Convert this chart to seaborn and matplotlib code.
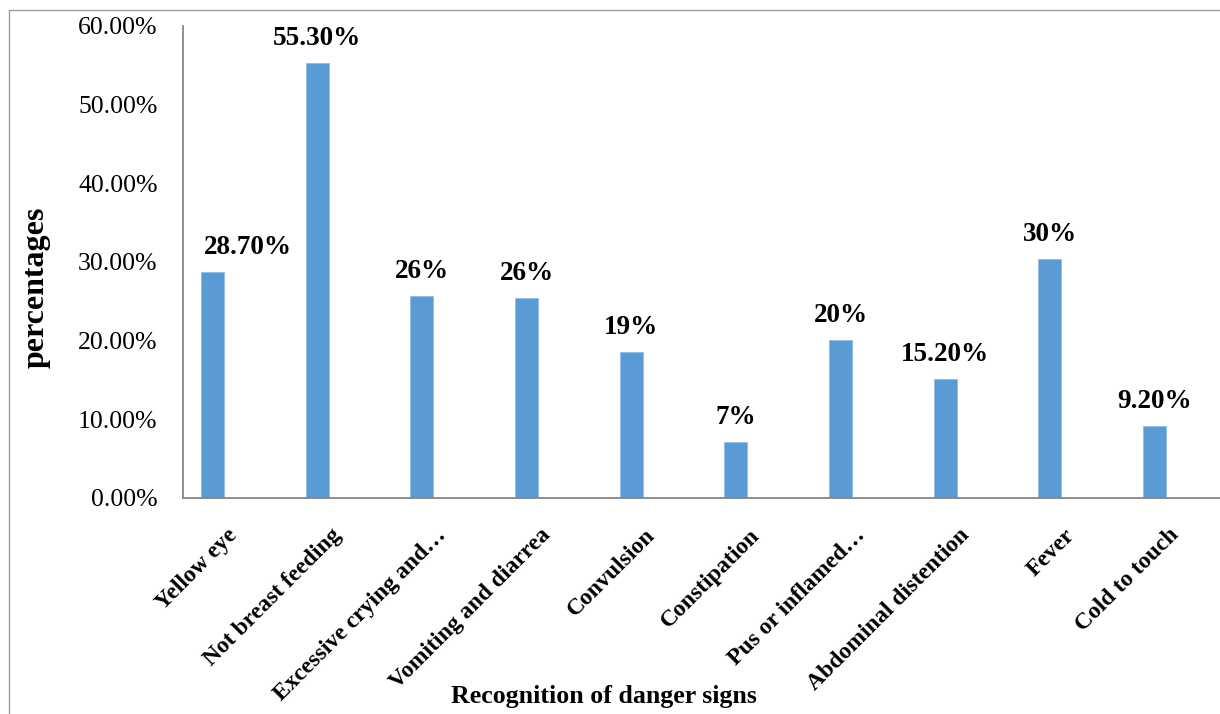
import matplotlib
matplotlib.use("Agg")
import matplotlib.pyplot as plt
import matplotlib.transforms as mtransforms
from matplotlib.lines import Line2D
import seaborn as sns
import pandas as pd
import numpy as np

categories = ["Yellow eye", "Not breast feeding", "Excessive crying and\u2026",
              "Vomiting and diarrea", "Convulsion", "Constipation",
              "Pus or inflamed\u2026", "Abdominal distention", "Fever", "Cold to touch"]
values = [28.7, 55.3, 25.7, 25.4, 18.6, 7.1, 20.1, 15.1, 30.4, 9.2]
value_labels = ["28.70%", "55.30%", "26%", "26%", "19%", "7%", "20%", "15.20%", "30%", "9.20%"]
y_ticks = [0, 10, 20, 30, 40, 50, 60]
y_tick_labels = ["0.00%", "10.00%", "20.00%", "30.00%", "40.00%", "50.00%", "60.00%"]
series_names = ["Series1", "Series2", "Series3"]

sns.set_theme(style="white")
plt.rcParams["font.family"] = ["Liberation Serif", "DejaVu Serif"]

W, H = 1220, 714
fig = plt.figure(figsize=(W / 100, H / 100), dpi=100)
ax_left, ax_right, ax_top, ax_bottom = 183.3, 1230.0, 25.7, 498.0
ax = fig.add_axes([ax_left / W, (H - ax_bottom) / H, (ax_right - ax_left) / W, (ax_bottom - ax_top) / H])

df = pd.DataFrame({"category": categories, "value": values, "series": series_names[0]})

sns.barplot(data=df, x="category", y="value", hue="series", hue_order=series_names,
            order=categories, width=0.66, dodge=True, palette=["#5B9BD5"] * 3,
            saturation=1, edgecolor="#8DBBE5", linewidth=0.6, errorbar=None,
            legend=False, ax=ax)

bars = ax.containers[0]
anns = ax.bar_label(bars, labels=value_labels, padding=8.5, fontsize=19.5, fontweight="bold",
                    color="black")
# Excel nudged the first label to the right of its bar
anns[0].set_ha("left")
anns[0].xyann = (-6.0, 8.5)

ax.set_xlim(-0.5, len(categories) - 0.5)
ax.set_ylim(0, 60)
ax.set_yticks(y_ticks)
ax.set_yticklabels(y_tick_labels, fontsize=18.5, color="black")

ax.set_xticks(range(len(categories)))
ax.set_xticklabels(categories, rotation=45, ha="right", va="center",
                   rotation_mode="anchor", fontsize=17, fontweight="bold", color="black")
ax.set_xticks(np.arange(len(categories) + 1) - 0.5, minor=True)
ax.tick_params(axis="x", which="major", length=0, pad=24.5)
ax.tick_params(axis="x", which="minor", length=5, width=1, color="#868686", direction="out")
ax.tick_params(axis="y", which="major", length=5, width=1, color="#868686", direction="out", pad=13.5)
ax.tick_params(axis="y", which="minor", length=0)
offset = mtransforms.ScaledTranslation(-2 / 100, 0, fig.dpi_scale_trans)
for lbl in ax.get_xticklabels():
    lbl.set_transform(lbl.get_transform() + offset)

for side in ["top", "right"]:
    ax.spines[side].set_visible(False)
for side in ["left", "bottom"]:
    ax.spines[side].set_color("#868686")
    ax.spines[side].set_linewidth(1.3)

ax.set_ylabel("percentages", fontsize=23, fontweight="bold", color="black", va="center")
ax.yaxis.set_label_coords((36 - ax_left) / (ax_right - ax_left), (ax_bottom - 287) / (ax_bottom - ax_top))
ax.set_xlabel("Recognition of danger signs", fontsize=18.6, fontweight="bold", color="black", va="center")
ax.xaxis.set_label_coords((603.5 - ax_left) / (ax_right - ax_left), (ax_bottom - 697) / (ax_bottom - ax_top))

# chart border
fig.add_artist(Line2D([9 / W, 9 / W], [0, 1 - 10 / H], transform=fig.transFigure, color="#A0A0A0", lw=1.0))
fig.add_artist(Line2D([9 / W, 1], [1 - 10 / H, 1 - 10 / H], transform=fig.transFigure, color="#A0A0A0", lw=1.0))

fig.savefig("out.png", dpi=100)
